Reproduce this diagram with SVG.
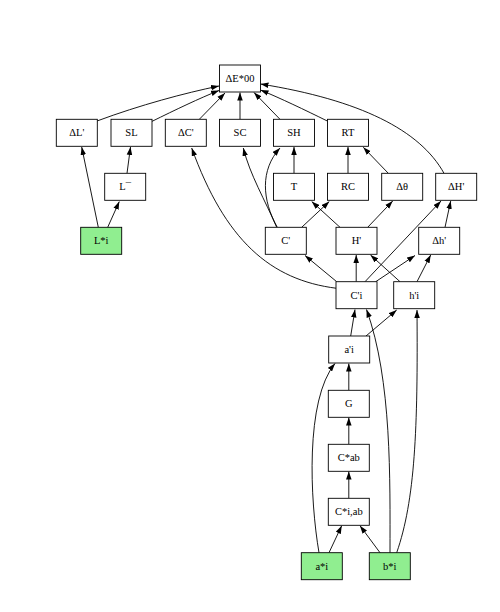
<svg xmlns="http://www.w3.org/2000/svg" width="500" height="612" viewBox="0 0 500 612">
<style>
.n rect{fill:#ffffff;stroke:#000000;stroke-width:0.9}
.n.g rect{fill:#90ee90}
.n text{font-family:"Liberation Serif","Times New Roman",serif;font-size:10.5px;text-anchor:middle;fill:#000000}
.e path{fill:none;stroke:#000000;stroke-width:0.9;marker-end:url(#arr)}
</style>
<defs>
<marker id="arr" markerUnits="userSpaceOnUse" markerWidth="8" markerHeight="6" refX="7.5" refY="2.6" orient="auto" viewBox="0 0 7.5 5.2">
<path d="M0,0 L7.5,2.6 L0,5.2 z" fill="#000000"/>
</marker>
</defs>
<rect x="0" y="0" width="500" height="612" fill="#ffffff"/>
<g id="connectors" class="e">
<path d="M97,121 C140,105 185,93 219,86"/>
<path d="M151.7,121.5 C175,110 200,98 219,90.5"/>
<path d="M199.3,119.3 L225,93"/>
<path d="M240,119.3 L240,92.5"/>
<path d="M280,119.3 L254,92.5"/>
<path d="M327.3,121 C305,110 280,98 260.5,90"/>
<path d="M444,173.3 C420,130 360,100 260.5,84"/>
<path d="M127,173.3 L130.5,147"/>
<path d="M98.3,227.3 L81.7,147"/>
<path d="M107.7,227.3 L119.3,201.5"/>
<path d="M294,173.3 L294,147"/>
<path d="M348,173.3 L348,147"/>
<path d="M388.3,173.3 L363.3,147.3"/>
<path d="M336.7,288.3 C270,280 225,240 191.7,148"/>
<path d="M276.7,227.3 C265,200 250,175 243.3,148"/>
<path d="M277.3,227.3 C262,200 260,170 280,148"/>
<path d="M301.7,227.3 L329.3,201.5"/>
<path d="M340,227.3 L311.7,201.5"/>
<path d="M367.7,227.3 L392.7,201"/>
<path d="M445,227.3 L450.7,201"/>
<path d="M336.7,281.7 L305,255.5"/>
<path d="M356.2,281.7 L356.2,255"/>
<path d="M365,281.7 L441,201"/>
<path d="M375.7,281.7 L415,255.5"/>
<path d="M400,281.7 L370.5,255"/>
<path d="M417,281.7 L430.7,255"/>
<path d="M350.7,336 L355,309.5"/>
<path d="M366,336 L396.7,310"/>
<path d="M348.8,390.3 L348.8,363.5"/>
<path d="M348.8,444.3 L348.8,417.5"/>
<path d="M348.8,498.3 L348.8,471.5"/>
<path d="M329,552.7 L341.7,525.7"/>
<path d="M380,552.7 L360,525.7"/>
<path d="M319,552.7 C310,500 305,400 335,363.5"/>
<path d="M390,552.7 C390,480 392,380 366.5,309.5"/>
<path d="M396.7,552.7 C415,500 418,430 417,310"/>
</g>
<g id="dE" class="n"><rect x="219.5" y="65" width="41" height="27"/><text x="240" y="82">ΔE*00</text></g>
<g id="dL" class="n"><rect x="56.3" y="119.3" width="41" height="27"/><text x="76.8" y="136.3">ΔL'</text></g>
<g id="SL" class="n"><rect x="111" y="119.3" width="41" height="27"/><text x="131.5" y="136.3">SL</text></g>
<g id="dC" class="n"><rect x="165.3" y="119.3" width="41" height="27"/><text x="185.8" y="136.3">ΔC'</text></g>
<g id="SC" class="n"><rect x="219.5" y="119.3" width="41" height="27"/><text x="240" y="136.3">SC</text></g>
<g id="SH" class="n"><rect x="273.5" y="119.3" width="41" height="27"/><text x="294" y="136.3">SH</text></g>
<g id="RT" class="n"><rect x="327.5" y="119.3" width="41" height="27"/><text x="348" y="136.3">RT</text></g>
<g id="Lbar" class="n"><rect x="104.7" y="173.3" width="41" height="27"/><text x="125.2" y="190.3">L¯</text></g>
<g id="T" class="n"><rect x="273.5" y="173.3" width="41" height="27"/><text x="294" y="190.3">T</text></g>
<g id="RC" class="n"><rect x="327.5" y="173.3" width="41" height="27"/><text x="348" y="190.3">RC</text></g>
<g id="dth" class="n"><rect x="381.7" y="173.3" width="41" height="27"/><text x="402.2" y="190.3">Δθ</text></g>
<g id="dH" class="n"><rect x="435.7" y="173.3" width="41" height="27"/><text x="456.2" y="190.3">ΔH'</text></g>
<g id="Li" class="n g"><rect x="80.7" y="227.3" width="41" height="27"/><text x="101.2" y="244.3">L*i</text></g>
<g id="Cp" class="n"><rect x="265.3" y="227.3" width="41" height="27"/><text x="285.8" y="244.3">C'</text></g>
<g id="Hp" class="n"><rect x="336" y="227.3" width="41" height="27"/><text x="356.5" y="244.3">H'</text></g>
<g id="dh" class="n"><rect x="418.7" y="227.3" width="41" height="27"/><text x="439.2" y="244.3">Δh'</text></g>
<g id="Ci" class="n"><rect x="336" y="281.7" width="41" height="27"/><text x="356.5" y="298.7">C'i</text></g>
<g id="hi" class="n"><rect x="393.7" y="281.7" width="41" height="27"/><text x="414.2" y="298.7">h'i</text></g>
<g id="ai" class="n"><rect x="328.7" y="336" width="41" height="27"/><text x="349.2" y="353">a'i</text></g>
<g id="G" class="n"><rect x="328.3" y="390.3" width="41" height="27"/><text x="348.8" y="407.3">G</text></g>
<g id="Cab" class="n"><rect x="328.3" y="444.3" width="41" height="27"/><text x="348.8" y="461.3">C*ab</text></g>
<g id="Ciab" class="n"><rect x="328.3" y="498.3" width="41" height="27"/><text x="348.8" y="515.3">C*i,ab</text></g>
<g id="as" class="n g"><rect x="301.3" y="552.7" width="41" height="27"/><text x="321.8" y="569.7">a*i</text></g>
<g id="bs" class="n g"><rect x="369.3" y="552.7" width="41" height="27"/><text x="389.8" y="569.7">b*i</text></g>
</svg>
